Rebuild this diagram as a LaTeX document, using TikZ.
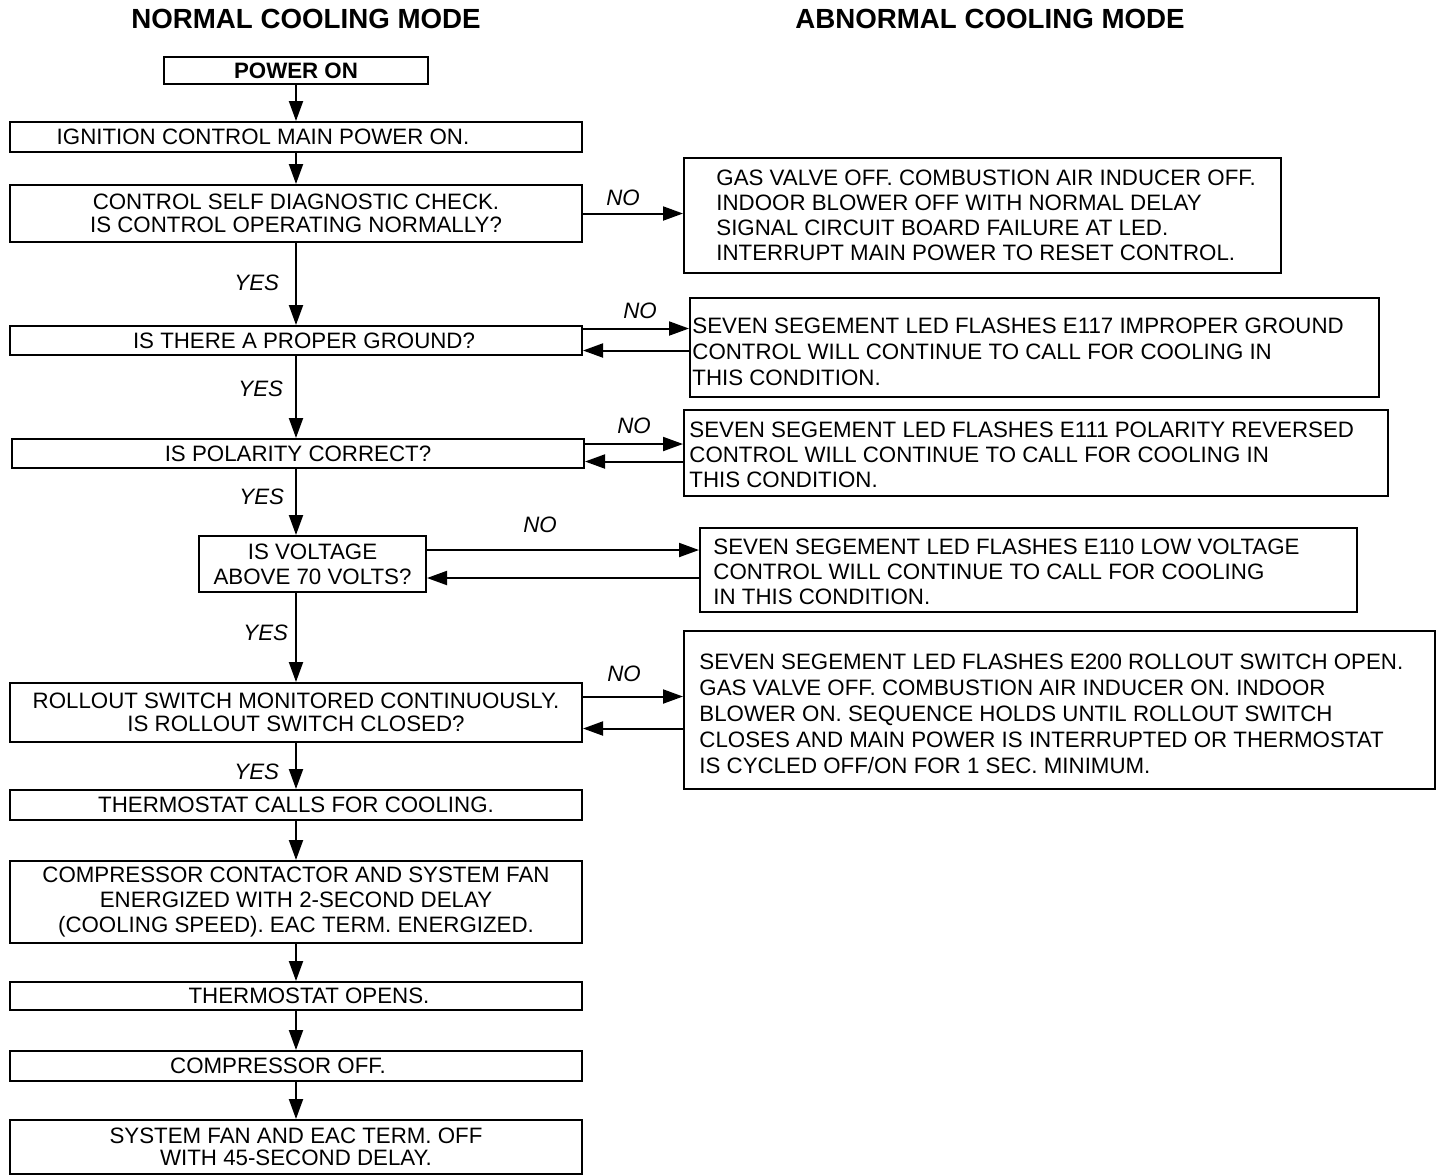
\documentclass[tikz,border=0pt]{standalone}
\usepackage{fontspec}
\setmainfont{Liberation Sans}
\usetikzlibrary{arrows.meta}

\begin{document}
\begin{tikzpicture}[x=0.5pt, y=-0.5pt,
  every node/.style={inner sep=0pt},
  box/.style={draw, line width=1pt, align=center, font=\fontsize{11.15}{12}\selectfont},
  note/.style={anchor=west, align=left, font=\fontsize{11.15}{12.5}\selectfont},
  head/.style={font=\fontsize{13.85}{16}\selectfont\bfseries},
  tag/.style={font=\fontsize{11.15}{13}\selectfont\itshape},
  arr/.style={line width=1pt, -{Triangle[length=10pt,width=7pt]}}]

\useasboundingbox (0,0) rectangle (1440,1175);

% Column titles
\node[head] (tnormal) at (306,19) {NORMAL COOLING MODE};
\node[head] (tabnormal) at (990,19) {ABNORMAL COOLING MODE};

% Main column
\coordinate (spine) at (296,0);
\node[box, minimum width=132pt, minimum height=13.5pt, font=\fontsize{11.15}{12}\selectfont\bfseries] (power) at (296,70.5) {POWER ON};
\node[box, minimum width=286pt, minimum height=15pt] (ign) at (296,137) {IGNITION CONTROL MAIN POWER ON.\hspace*{33pt}};
\node[box, minimum width=286pt, minimum height=28.5pt, font=\fontsize{11.15}{11.5}\selectfont] (diag) at (296,213.5) {CONTROL SELF DIAGNOSTIC CHECK.\\IS CONTROL OPERATING NORMALLY?};
\node[box, minimum width=286pt, minimum height=14.5pt] (ground) at (296,340.5) {\hspace*{8pt}IS THERE A PROPER GROUND?};
\node[box, minimum width=286pt, minimum height=14.5pt] (polar) at (298,453.5) {IS POLARITY CORRECT?};
\node[box, minimum width=113.5pt, minimum height=28pt, font=\fontsize{11.15}{12.5}\selectfont] (volt) at (312.5,564) {IS VOLTAGE\\ABOVE 70 VOLTS?};
\node[box, minimum width=286pt, minimum height=29.5pt, font=\fontsize{11.15}{11.2}\selectfont] (roll) at (296,712.5) {ROLLOUT SWITCH MONITORED CONTINUOUSLY.\\IS ROLLOUT SWITCH CLOSED?};
\node[box, minimum width=286pt, minimum height=15pt] (tcall) at (296,805) {THERMOSTAT CALLS FOR COOLING.};
\node[box, minimum width=286pt, minimum height=41pt, font=\fontsize{11.15}{12.5}\selectfont] (comp) at (296,902) {COMPRESSOR CONTACTOR AND SYSTEM FAN\\ENERGIZED WITH 2-SECOND DELAY\\(COOLING SPEED). EAC TERM. ENERGIZED.};
\node[box, minimum width=286pt, minimum height=14pt] (topen) at (296,996) {\hspace*{13pt}THERMOSTAT OPENS.};
\node[box, minimum width=286pt, minimum height=15pt] (coff) at (296,1066) {COMPRESSOR OFF.\hspace*{18pt}};
\node[box, minimum width=286pt, minimum height=27pt, font=\fontsize{11.15}{11}\selectfont] (fan) at (296,1147) {SYSTEM FAN AND EAC TERM. OFF\\WITH 45-SECOND DELAY.};

% Fault boxes
\node[box, minimum width=298.5pt, minimum height=57.5pt] (gas) at (982.5,215.5) {};
\node[note] (gastext) at (716,215) {GAS VALVE OFF. COMBUSTION AIR INDUCER OFF.\\INDOOR BLOWER OFF WITH NORMAL DELAY\\SIGNAL CIRCUIT BOARD FAILURE AT LED.\\INTERRUPT MAIN POWER TO RESET CONTROL.};
\node[box, minimum width=344.5pt, minimum height=49.5pt] (eground) at (1034.5,347.5) {};
\node[note, font=\fontsize{11.15}{13}\selectfont] (egroundtext) at (692,352) {SEVEN SEGEMENT LED FLASHES E117 IMPROPER GROUND\\CONTROL WILL CONTINUE TO CALL FOR COOLING IN\\THIS CONDITION.};
\node[box, minimum width=352pt, minimum height=43pt] (epolar) at (1036,453) {};
\node[note] (epolartext) at (689,455) {SEVEN SEGEMENT LED FLASHES E111 POLARITY REVERSED\\CONTROL WILL CONTINUE TO CALL FOR COOLING IN\\THIS CONDITION.};
\node[box, minimum width=328.5pt, minimum height=42pt] (evolt) at (1028.5,570) {};
\node[note] (evolttext) at (713,572) {SEVEN SEGEMENT LED FLASHES E110 LOW VOLTAGE\\CONTROL WILL CONTINUE TO CALL FOR COOLING\\IN THIS CONDITION.};
\node[box, minimum width=375.5pt, minimum height=79pt] (eroll) at (1059.5,710) {};
\node[note, font=\fontsize{11.15}{13}\selectfont] (erolltext) at (699,714) {SEVEN SEGEMENT LED FLASHES E200 ROLLOUT SWITCH OPEN.\\GAS VALVE OFF. COMBUSTION AIR INDUCER ON. INDOOR\\BLOWER ON. SEQUENCE HOLDS UNTIL ROLLOUT SWITCH\\CLOSES AND MAIN POWER IS INTERRUPTED OR THERMOSTAT\\IS CYCLED OFF/ON FOR 1 SEC. MINIMUM.};

% Main flow
\draw[arr] (power.south -| spine) -- (ign.north -| spine);
\draw[arr] (ign.south -| spine) -- (diag.north -| spine);
\draw[arr] (diag.south -| spine) -- (ground.north -| spine) node[tag, pos=0.48, left=8pt] (yes1) {YES};
\draw[arr] (ground.south -| spine) -- (polar.north -| spine) node[tag, pos=0.4, left=6pt] (yes2) {YES};
\draw[arr] (polar.south -| spine) -- (volt.north -| spine) node[tag, pos=0.42, left=5.5pt] (yes3) {YES};
\draw[arr] (volt.south -| spine) -- (roll.north -| spine) node[tag, pos=0.45, left=3.5pt] (yes4) {YES};
\draw[arr] (roll.south -| spine) -- (tcall.north -| spine) node[tag, pos=0.62, left=8pt] (yes5) {YES};
\draw[arr] (tcall.south -| spine) -- (comp.north -| spine);
\draw[arr] (comp.south -| spine) -- (topen.north -| spine);
\draw[arr] (topen.south -| spine) -- (coff.north -| spine);
\draw[arr] (coff.south -| spine) -- (fan.north -| spine);

% NO branches
\draw[arr] (diag.east) -- (diag.east -| gas.west) node[tag, midway, above=3.5pt, xshift=-5pt] (no1) {NO};
\draw[arr] ([yshift=6pt]ground.east) -- ([yshift=6pt]ground.east -| eground.west) node[tag, midway, above=4.5pt, xshift=2pt] (no2) {NO};
\draw[arr] ([yshift=-5pt]ground.east -| eground.west) -- ([yshift=-5pt]ground.east);
\draw[arr] ([yshift=4.75pt]polar.east) -- ([yshift=4.75pt]polar.east -| epolar.west) node[tag, midway, above=4.5pt] (no3) {NO};
\draw[arr] ([yshift=-4pt]polar.east -| epolar.west) -- ([yshift=-4pt]polar.east);
\draw[arr] ([yshift=7pt]volt.east) -- ([yshift=7pt]volt.east -| evolt.west) node[tag, midway, above=8pt, xshift=-11.5pt] (no4) {NO};
\draw[arr] ([yshift=-7pt]volt.east -| evolt.west) -- ([yshift=-7pt]volt.east);
\draw[arr] ([yshift=8pt]roll.east) -- ([yshift=8pt]roll.east -| eroll.west) node[tag, midway, above=7pt, xshift=-4.5pt] (no5) {NO};
\draw[arr] ([yshift=-8pt]roll.east -| eroll.west) -- ([yshift=-8pt]roll.east);

\end{tikzpicture}
\end{document}
